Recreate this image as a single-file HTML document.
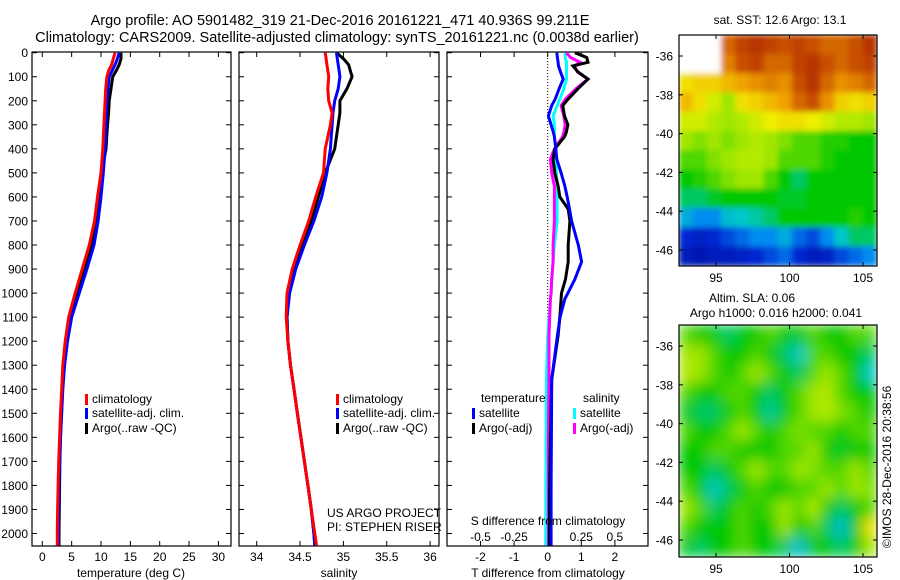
<!DOCTYPE html>
<html><head><meta charset="utf-8"><style>
body{margin:0;background:#fff}
svg{display:block;font-family:"Liberation Sans",sans-serif}
text{fill:#000}
</style></head><body>
<svg id="fig" width="900" height="580" viewBox="0 0 900 580" xmlns="http://www.w3.org/2000/svg">
<text x="340" y="25" font-size="14.5" text-anchor="middle">Argo profile: AO 5901482_319 21-Dec-2016 20161221_471 40.936S 99.211E</text>
<text x="337" y="42" font-size="14.5" text-anchor="middle">Climatology: CARS2009. Satellite-adjusted climatology: synTS_20161221.nc (0.0038d earlier)</text>
<g id="p1"></g>
<g id="p2"></g>
<g id="p3"></g>
<g id="m1"></g>
<g id="m2"></g>
<text x="780" y="24" font-size="12" text-anchor="middle">sat. SST: 12.6 Argo: 13.1</text>
<text x="752" y="302" font-size="12" text-anchor="middle">Altim. SLA: 0.06</text>
<text x="776" y="317" font-size="12" text-anchor="middle">Argo h1000: 0.016 h2000: 0.041</text>
<text transform="translate(891,548) rotate(-90)" font-size="12">©IMOS 28-Dec-2016 20:38:56</text>
</svg>
<script>
// ---- data ----
const depths   = [0,25,50,75,100,150,200,250,300,400,500,600,700,800,900,1000,1100,1200,1300,1400,1500,1600,1700,1800,1900,2000,2050];
const tempClim = [12.4,12.1,11.8,11.3,11.0,10.8,10.7,10.6,10.5,10.3,10.0,9.4,8.9,8.0,6.8,5.6,4.5,3.9,3.5,3.3,3.1,2.95,2.8,2.7,2.6,2.55,2.55];
const tempSat  = [13.1,12.8,12.4,11.9,11.4,11.2,11.0,10.9,10.85,10.7,10.4,10.0,9.5,8.8,7.6,6.3,5.0,4.3,3.8,3.5,3.3,3.1,2.95,2.85,2.8,2.75,2.75];
const tempArgo = [13.4,13.4,13.1,12.6,12.0,11.7,11.4,11.3,11.1,10.85,10.1,9.7,9.2,8.5,7.3,6.0,4.85,4.2,3.7,3.45,3.25,3.1,3.0,2.95,2.9,2.85,2.85];
const salClim  = [34.79,34.80,34.81,34.82,34.83,34.82,34.83,34.87,34.85,34.79,34.77,34.68,34.60,34.50,34.41,34.35,34.34,34.36,34.39,34.43,34.47,34.51,34.55,34.59,34.63,34.67,34.69];
const salSat   = [34.92,34.93,34.94,34.95,34.96,34.94,34.90,34.88,34.87,34.85,34.81,34.75,34.66,34.55,34.45,34.38,34.35,34.36,34.39,34.43,34.47,34.51,34.55,34.59,34.63,34.66,34.67];
const salArgo  = [34.92,35.00,35.06,35.08,35.10,35.04,34.96,34.96,34.94,34.90,34.79,34.71,34.63,34.52,34.43,34.37,34.35,34.36,34.39,34.43,34.47,34.51,34.55,34.59,34.63,34.66,34.67];
const dDepths  = [0,20,40,55,80,110,150,194,220,263,300,332,350,400,443,500,554,600,650,700,800,870,942,1000,1025,1100,1177,1360,1600,1800,2000,2050];
const dTSat    = [0.27,0.29,0.31,0.32,0.38,0.46,0.34,0.22,0.12,0.02,0.10,0.17,0.20,0.24,0.27,0.40,0.51,0.58,0.65,0.71,0.91,1.01,0.81,0.60,0.51,0.37,0.29,0.12,0.11,0.10,0.10,0.10];
const dTArgo   = [0.81,1.16,1.20,0.75,0.90,1.20,0.90,0.60,0.45,0.50,0.60,0.55,0.50,0.21,0.16,0.21,0.31,0.36,0.61,0.66,0.61,0.61,0.53,0.41,0.40,0.36,0.31,0.12,0.08,0.06,0.05,0.05];
const dSSat    = [0.13,0.13,0.14,0.14,0.14,0.14,0.12,0.09,0.07,0.04,0.05,0.05,0.05,0.06,0.06,0.065,0.07,0.07,0.07,0.07,0.05,0.04,0.03,0.025,0.02,0.01,0.0,-0.01,-0.012,-0.014,-0.015,-0.015];
const dSArgo   = [0.14,0.17,0.24,0.20,0.22,0.30,0.21,0.13,0.10,0.12,0.13,0.12,0.11,0.05,0.02,0.03,0.05,0.05,0.05,0.05,0.04,0.04,0.03,0.025,0.02,0.015,0.01,0.01,0.005,0.005,0.005,0.005];
const depthTicks = [0,100,200,300,400,500,600,700,800,900,1000,1100,1200,1300,1400,1500,1600,1700,1800,1900,2000];
const tempTicks = [0,5,10,15,20,25,30];
const salTicks = [34,34.5,35,35.5,36];
const salTickLabels = ["34","34.5","35","35.5","36"];
const dTTicks = [-2,-1,0,1,2];
const dSTicks = [-0.5,-0.25,0,0.25,0.5];
const dSTickLabels = ["-0.5","-0.25","0","0.25","0.5"];
const lonTicks = [95,100,105];
const latTicks = [-36,-38,-40,-42,-44,-46];
const sstGrid = [
[null,null,null,0.85,0.90,0.92,0.90,0.88,0.90,0.88,0.85,0.85,0.88,0.92],
[null,null,null,0.82,0.88,0.90,0.85,0.85,0.90,0.92,0.88,0.85,0.88,0.90],
[0.70,0.72,0.72,0.75,0.78,0.80,0.82,0.80,0.88,0.92,0.85,0.80,0.82,0.85],
[0.75,0.70,0.65,0.60,0.70,0.72,0.75,0.78,0.85,0.88,0.80,0.72,0.70,0.72],
[0.65,0.65,0.62,0.60,0.62,0.65,0.68,0.70,0.70,0.68,0.65,0.62,0.62,0.60],
[0.60,0.58,0.60,0.58,0.60,0.62,0.60,0.58,0.55,0.55,0.52,0.52,0.50,0.50],
[0.55,0.55,0.58,0.60,0.62,0.62,0.60,0.55,0.55,0.55,0.52,0.50,0.50,0.50],
[0.50,0.52,0.55,0.58,0.60,0.60,0.55,0.50,0.45,0.50,0.50,0.50,0.50,0.50],
[0.45,0.45,0.48,0.50,0.50,0.50,0.50,0.48,0.48,0.50,0.50,0.50,0.50,0.50],
[0.35,0.30,0.30,0.38,0.40,0.42,0.45,0.50,0.50,0.50,0.50,0.50,0.52,0.50],
[0.15,0.12,0.15,0.20,0.25,0.30,0.30,0.35,0.25,0.20,0.30,0.40,0.45,0.45],
[0.10,0.08,0.10,0.10,0.12,0.15,0.20,0.25,0.15,0.10,0.12,0.20,0.25,0.30]];
const slaGrid = [
[0.55,0.50,0.50,0.45,0.50,0.50,0.55,0.50,0.50,0.55,0.50,0.50,0.55,0.55],
[0.60,0.60,0.55,0.50,0.50,0.55,0.50,0.45,0.40,0.55,0.55,0.50,0.50,0.45],
[0.62,0.60,0.55,0.50,0.55,0.60,0.55,0.50,0.45,0.55,0.60,0.55,0.50,0.40],
[0.55,0.50,0.50,0.55,0.55,0.50,0.45,0.50,0.55,0.60,0.62,0.55,0.50,0.50],
[0.50,0.45,0.45,0.50,0.55,0.50,0.42,0.50,0.55,0.60,0.62,0.58,0.55,0.50],
[0.55,0.50,0.50,0.55,0.60,0.55,0.50,0.55,0.58,0.55,0.55,0.50,0.55,0.55],
[0.50,0.50,0.55,0.55,0.50,0.50,0.50,0.55,0.55,0.60,0.50,0.48,0.50,0.50],
[0.50,0.50,0.45,0.50,0.55,0.60,0.55,0.55,0.60,0.58,0.55,0.55,0.60,0.55],
[0.55,0.50,0.40,0.45,0.50,0.55,0.50,0.50,0.55,0.55,0.60,0.55,0.60,0.58],
[0.60,0.55,0.45,0.50,0.55,0.50,0.55,0.60,0.55,0.62,0.50,0.45,0.50,0.55],
[0.55,0.50,0.50,0.50,0.55,0.50,0.50,0.60,0.50,0.55,0.45,0.38,0.50,0.70],
[0.50,0.45,0.50,0.50,0.55,0.50,0.50,0.45,0.38,0.50,0.50,0.45,0.50,0.60]];

// ---- helpers ----
const NS="http://www.w3.org/2000/svg";
const FS=12;
function mk(parent,tag,attrs){const e=document.createElementNS(NS,tag);for(const k in attrs)e.setAttribute(k,attrs[k]);parent.appendChild(e);return e;}
function lin(d0,d1,r0,r1){return v=>r0+(v-d0)*(r1-r0)/(d1-d0);}
const yD = lin(0,2000,52.7,533.5);
const PT=52, PB=546;

function axesBox(g,x0,x1,name){
  const r=mk(g,'rect',{x:x0,y:PT,width:x1-x0,height:PB-PT,fill:'none',stroke:'#000','stroke-width':1.2});
  
  
  depthTicks.forEach(d=>{
    const y=yD(d);
    mk(g,'line',{x1:x0,x2:x0+5,y1:y,y2:y,stroke:'#000'});
    mk(g,'line',{x1:x1-5,x2:x1,y1:y,y2:y,stroke:'#000'});
  });
}
function xTicks(g,vals,labels,sx,yLab,name){
  vals.forEach((v,i)=>{
    const x=sx(v);
    mk(g,'line',{x1:x,x2:x,y1:PT,y2:PT+5,stroke:'#000'});
    mk(g,'line',{x1:x,x2:x,y1:PB-5,y2:PB,stroke:'#000'});
    const t=mk(g,'text',{x:x,y:yLab,'font-size':FS,'text-anchor':'middle'});
    t.textContent=labels[i];
    
    
  });
}
function profile(g,xs,ds,sx,color,name){
  const pts=xs.map((v,i)=>sx(v).toFixed(1)+','+yD(ds[i]).toFixed(1)).join(' ');
  const p=mk(g,'polyline',{points:pts,fill:'none',stroke:color,'stroke-width':3});
  
  
}
function legendItem(g,x,y,color,label,name){
  mk(g,'rect',{x:x,y:y-9,width:3,height:11,fill:color});
  const t=mk(g,'text',{x:x+7,y:y,'font-size':FS});
  t.textContent=label;
  
  
}

// ---- panel 1 ----
const g1=document.getElementById('p1');
const sxT=lin(0,30,42.3,218.4);
axesBox(g1,32,231,'temperature');
depthTicks.forEach(d=>{const t=mk(g1,'text',{x:28,y:yD(d)+4.5,'font-size':FS,'text-anchor':'end'});t.textContent=d;
  
  });
xTicks(g1,tempTicks,tempTicks.map(String),sxT,561,'temperature');
profile(g1,tempArgo,depths,sxT,'#000','temp-argo-line');
profile(g1,tempSat,depths,sxT,'#0000ff','temp-satellite-line');
profile(g1,tempClim,depths,sxT,'#ff0000','temp-climatology-line');
{const t=mk(g1,'text',{x:131,y:577,'font-size':FS,'text-anchor':'middle'});t.textContent='temperature (deg C)';
 
 }
legendItem(g1,85,403,'#ff0000','climatology','legend-climatology');
legendItem(g1,85,417,'#0000ff','satellite-adj. clim.','legend-satellite');
legendItem(g1,85,432,'#000','Argo(..raw -QC)','legend-argo');

// ---- panel 2 ----
const g2=document.getElementById('p2');
const sxS=lin(34,36,256.7,430.1);
axesBox(g2,239,439,'salinity');
xTicks(g2,salTicks,salTickLabels,sxS,561,'salinity');
profile(g2,salArgo,depths,sxS,'#000','sal-argo-line');
profile(g2,salSat,depths,sxS,'#0000ff','sal-satellite-line');
profile(g2,salClim,depths,sxS,'#ff0000','sal-climatology-line');
{const t=mk(g2,'text',{x:339,y:577,'font-size':FS,'text-anchor':'middle'});t.textContent='salinity';
 
 }
legendItem(g2,336,403,'#ff0000','climatology','legend-climatology-2');
legendItem(g2,336,417,'#0000ff','satellite-adj. clim.','legend-satellite-2');
legendItem(g2,336,432,'#000','Argo(..raw -QC)','legend-argo-2');
{const t=mk(g2,'text',{x:327,y:517,'font-size':FS});t.textContent='US ARGO PROJECT';
 
 
 const t2=mk(g2,'text',{x:327,y:531,'font-size':FS});t2.textContent='PI: STEPHEN RISER';
 
 }

// ---- panel 3 ----
const g3=document.getElementById('p3');
const sxdT=lin(0,1,547.7,581.3);
const sxdS=lin(0,0.25,547.7,581.3);
axesBox(g3,447,648,'difference');
dTTicks.forEach(v=>{const x=sxdT(v);
  mk(g3,'line',{x1:x,x2:x,y1:PT,y2:PT+5,stroke:'#000'});mk(g3,'line',{x1:x,x2:x,y1:PB-5,y2:PB,stroke:'#000'});
  const t=mk(g3,'text',{x:x,y:561,'font-size':FS,'text-anchor':'middle'});t.textContent=v;
  
  });
dSTicks.forEach((v,i)=>{const t=mk(g3,'text',{x:sxdS(v),y:541,'font-size':FS,'text-anchor':'middle'});t.textContent=dSTickLabels[i];
  
  });
mk(g3,'line',{x1:sxdT(0),x2:sxdT(0),y1:PT,y2:PB,stroke:'#000','stroke-dasharray':'1,2'});
profile(g3,dSSat,dDepths,sxdS,'#00ffff','s-diff-satellite-line');
profile(g3,dSArgo,dDepths,sxdS,'#ff00ff','s-diff-argo-line');
profile(g3,dTArgo,dDepths,sxdT,'#000','t-diff-argo-line');
profile(g3,dTSat,dDepths,sxdT,'#0000ff','t-diff-satellite-line');
{const t=mk(g3,'text',{x:548,y:525,'font-size':FS,'text-anchor':'middle'});t.textContent='S difference from climatology';
 
 
 const t2=mk(g3,'text',{x:548,y:577,'font-size':FS,'text-anchor':'middle'});t2.textContent='T difference from climatology';
 
 
 const t3=mk(g3,'text',{x:481,y:402,'font-size':FS});t3.textContent='temperature';
 
 
 const t4=mk(g3,'text',{x:583,y:402,'font-size':FS});t4.textContent='salinity';
 
 }
legendItem(g3,472,417,'#0000ff','satellite','legend-t-satellite');
legendItem(g3,472,432,'#000','Argo(-adj)','legend-t-argo');
legendItem(g3,573,417,'#00ffff','satellite','legend-s-satellite');
legendItem(g3,573,432,'#ff00ff','Argo(-adj)','legend-s-argo');

// ---- maps ----
const stops=[[0,[0,0,140]],[0.15,[0,40,210]],[0.3,[0,140,240]],[0.4,[0,200,200]],[0.5,[0,200,0]],[0.6,[160,230,0]],[0.68,[240,240,0]],[0.78,[240,160,0]],[0.88,[200,80,0]],[1,[150,0,0]]];
function cmap(v){for(let i=1;i<stops.length;i++){if(v<=stops[i][0]){const a=stops[i-1],b=stops[i];const f=(v-a[0])/(b[0]-a[0]);
  const c=a[1].map((x,k)=>Math.round(x+(b[1][k]-x)*f));return 'rgb('+c.join(',')+')';}}return 'rgb(150,0,0)';}
function drawMap(g,grid,top,bottom,name,blur){
  const L=679,R=877;
  const sxl=lin(95,105,716,863);
  const sy=lin(-36,-46,top+21,top+215);
  const fid=name+'-blur', clipId=name+'-clip';
  const defs=mk(g,'defs',{});
  defs.innerHTML='<filter id="'+fid+'" x="0" y="0" width="1" height="1"><feGaussianBlur stdDeviation="'+blur+'" edgeMode="duplicate"/></filter><clipPath id="'+clipId+'"><rect x="'+L+'" y="'+top+'" width="'+(R-L)+'" height="'+(bottom-top)+'"/></clipPath>';
  const outer=mk(g,'g',{'clip-path':'url(#'+clipId+')'});
  const cg=mk(outer,'g',{filter:'url(#'+fid+')'});
  const cw=(R-L)/grid[0].length, ch=(bottom-top)/grid.length;
  grid.forEach((row,r)=>row.forEach((v,c)=>{
    const rc=mk(cg,'rect',{x:L+c*cw-0.3,y:top+r*ch-0.3,width:cw+0.6,height:ch+0.6,fill:v===null?'#fff':cmap(v)});
    
    
  }));
  const fr=mk(g,'rect',{x:L,y:top,width:R-L,height:bottom-top,fill:'none',stroke:'#000','stroke-width':1.2});
  
  
  lonTicks.forEach(v=>{const x=sxl(v);
    mk(g,'line',{x1:x,x2:x,y1:top,y2:top+4,stroke:'#000'});mk(g,'line',{x1:x,x2:x,y1:bottom-4,y2:bottom,stroke:'#000'});
    const t=mk(g,'text',{x:x,y:bottom+16,'font-size':FS,'text-anchor':'middle'});t.textContent=v;
    
    });
  latTicks.forEach(v=>{const y=sy(v);
    mk(g,'line',{x1:L,x2:L+4,y1:y,y2:y,stroke:'#000'});mk(g,'line',{x1:R-4,x2:R,y1:y,y2:y,stroke:'#000'});
    const t=mk(g,'text',{x:673,y:y+4.5,'font-size':FS,'text-anchor':'end'});t.textContent=v;
    
    });
}
drawMap(document.getElementById('m1'),sstGrid,35,266,'sst-map',3);
drawMap(document.getElementById('m2'),slaGrid,325,557,'sla-map',7);
</script>
</body></html>
